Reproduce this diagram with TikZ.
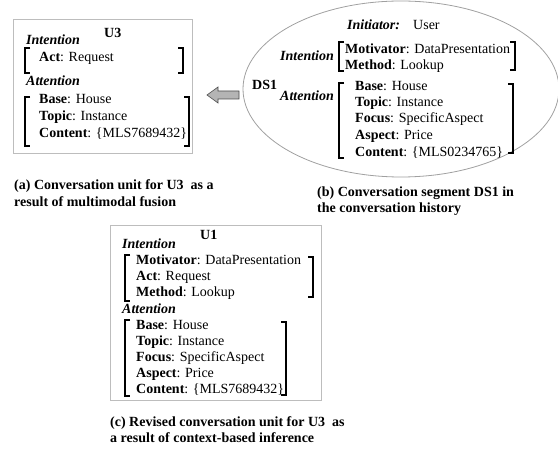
\documentclass[tikz,border=0pt]{standalone}
\usepackage{fontspec}
\setmainfont{Liberation Serif}
\definecolor{framegray}{HTML}{BDBDBD}
\definecolor{ovalgray}{HTML}{A0A0A0}
\definecolor{arrowfill}{HTML}{B4B4B4}
% square brackets: x, top y, bottom y
\newcommand\LeftBrk[3]{\draw[brk] (#1+5,#2) -- (#1,#2) -- (#1,#3) -- (#1+5,#3);}
\newcommand\RightBrk[3]{\draw[brk] (#1-5,#2) -- (#1,#2) -- (#1,#3) -- (#1-5,#3);}
\begin{document}
\begin{tikzpicture}[x=1pt,y=-1pt,
  txt/.style={anchor=base west, inner sep=0pt, font=\fontsize{14}{17}\selectfont},
  hd/.style={anchor=base west, inner sep=0pt, font=\fontsize{14}{17}\selectfont\bfseries\itshape},
  ttl/.style={anchor=base west, inner sep=0pt, font=\fontsize{14}{17}\selectfont\bfseries},
  frame/.style={draw=framegray, line width=0.9pt},
  brk/.style={line width=1.3pt, line join=miter}]
\useasboundingbox (0,0) rectangle (558,454);
\clip (0,0) rectangle (558,454);

% ---- (a) conversation unit U3 ----
\draw[frame] (13,19) rectangle (192,153);
\node[ttl] (u3) at (104,38) {U3};
\node[hd] (aint) at (26,45) {Intention};
\node[txt] (aact) at (39,62) {\textbf{Act}: Request};
\LeftBrk{25}{48}{73}
\RightBrk{183}{48}{73}
\node[hd] (aatt) at (26,86) {Attention};
\node[txt] (abase) at (39,104) {\textbf{Base}: House};
\node[txt] (atopic) at (39,121) {\textbf{Topic}: Instance};
\node[txt] (acont) at (39,138) {\textbf{Content}: \{MLS7689432\}};
\LeftBrk{25}{97}{146}
\RightBrk{189}{97}{146}

% ---- fusion arrow ----
\draw[black!70, fill=arrowfill, line width=0.6pt]
  (207,95) -- (218,87) -- (218,91) -- (239,91) -- (239,99) -- (218,99) -- (218,103) -- cycle;

% ---- (b) conversation segment DS1 ----
\draw[ovalgray, line width=0.8pt] (401,89) ellipse [x radius=158pt, y radius=88pt];
\node[hd] (init) at (347,30) {Initiator:};
\node[txt] (user) at (413,30) {User};
\node[hd] (bint) at (280,61) {Intention};
\node[txt] (bmot) at (345,54) {\textbf{Motivator}: DataPresentation};
\node[txt] (bmeth) at (345,70) {\textbf{Method}: Lookup};
\LeftBrk{339}{42}{71}
\RightBrk{515}{42}{70}
\node[ttl] (ds1) at (252,90) {DS1};
\node[hd] (batt) at (280,101) {Attention};
\node[txt] (bbase) at (355,91) {\textbf{Base}: House};
\node[txt] (btopic) at (355,107) {\textbf{Topic}: Instance};
\node[txt] (bfocus) at (355,123) {\textbf{Focus}: SpecificAspect};
\node[txt] (baspect) at (355,140) {\textbf{Aspect}: Price};
\node[txt] (bcont) at (355,157) {\textbf{Content}: \{MLS0234765\}};
\LeftBrk{339}{83}{158}
\RightBrk{513}{84}{153}

% ---- (c) revised conversation unit ----
\draw[frame] (110,225) rectangle (321,400);
\node[ttl] (u1) at (200,240) {U1};
\node[hd] (cint) at (122,249) {Intention};
\node[txt] (cmot) at (136,265) {\textbf{Motivator}: DataPresentation};
\node[txt] (cact) at (136,281) {\textbf{Act}: Request};
\node[txt] (cmeth) at (136,297) {\textbf{Method}: Lookup};
\LeftBrk{125}{255}{301}
\RightBrk{313}{257}{297}
\node[hd] (catt) at (122,314) {Attention};
\node[txt] (cbase) at (136,330) {\textbf{Base}: House};
\node[txt] (ctopic) at (136,346) {\textbf{Topic}: Instance};
\node[txt] (cfocus) at (136,362) {\textbf{Focus}: SpecificAspect};
\node[txt] (caspect) at (136,378) {\textbf{Aspect}: Price};
\node[txt] (ccont) at (136,394) {\textbf{Content}: \{MLS7689432\}};
\LeftBrk{125}{320}{396}
\RightBrk{286}{322}{395}

% ---- captions ----
\node[ttl] (capa1) at (14,190) {(a) Conversation unit for U3\ \ as a};
\node[ttl] (capa2) at (14,207) {result of multimodal fusion};
\node[ttl] (capb1) at (317,197) {(b) Conversation segment DS1 in};
\node[ttl] (capb2) at (317,213) {the conversation history};
\node[ttl] (capc1) at (110,427) {(c) Revised conversation unit for U3\ \ as};
\node[ttl] (capc2) at (110,443) {a result of context-based inference};
\end{tikzpicture}
\end{document}
